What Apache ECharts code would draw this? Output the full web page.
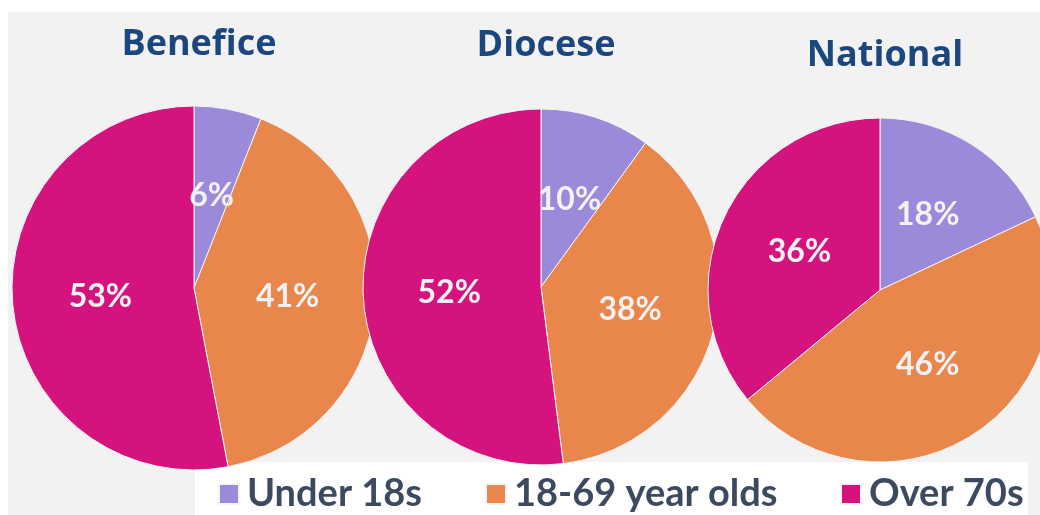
<!DOCTYPE html>
<html>
<head>
<meta charset="utf-8">
<script src="https://cdn.jsdelivr.net/npm/echarts@6/dist/echarts.min.js"></script>
<style>
  html, body { margin: 0; padding: 0; background: #ffffff; }
  #chart { width: 1040px; height: 515px; }
</style>
</head>
<body>
<div id="chart"></div>
<script>
// 数据
var groups = ['Benefice', 'Diocese', 'National'];
var ageBands = ['Under 18s', '18-69 year olds', 'Over 70s'];
var beneficeShare = [6, 41, 53];
var dioceseShare = [10, 38, 52];
var nationalShare = [18, 46, 36];
var bandColors = ['#9b89d9', '#e8864b', '#d5137f'];

// 每个饼图的位置
var pieCenters = [[194, 288], [541, 287], [880, 290]];
var pieRadius = [182, 178, 172];
var titleTops = [22, 23, 33];
var legendLefts = [213, 480, 835];

var shares = [beneficeShare, dioceseShare, nationalShare];

var myChart = echarts.init(document.getElementById('chart'));

function buildSeries(i) {
    return {
        name: groups[i],
        type: 'pie',
        center: pieCenters[i],
        radius: pieRadius[i],
        startAngle: 90,
        clockwise: true,
        silent: true,
        itemStyle: { borderColor: '#f4f4f4', borderWidth: 1 },
        label: {
            show: true,
            position: 'inner',
            formatter: '{c}%',
            color: '#f2f2f2',
            fontFamily: 'Lato',
            fontWeight: 'bold',
            fontSize: 32
        },
        labelLine: { show: false },
        data: ageBands.map(function (name, j) {
            return { name: name, value: shares[i][j], itemStyle: { color: bandColors[j] } };
        })
    };
}

var option = {
    backgroundColor: '#ffffff',
    animation: false,
    graphic: [
        {   // 灰色面板
            type: 'rect', z: -10, silent: true,
            shape: { x: 8, y: 12, width: 1032, height: 503 },
            style: { fill: '#f2f2f2' }
        },
        {   // 图例白底
            type: 'rect', z: -5, silent: true,
            shape: { x: 195, y: 462, width: 833, height: 53 },
            style: { fill: '#ffffff' }
        }
    ],
    title: groups.map(function (g, i) {
        return {
            text: g,
            left: pieCenters[i][0],
            top: titleTops[i],
            textAlign: 'center',
            textStyle: { fontFamily: 'Open Sans', fontWeight: 'bold', fontSize: 36, color: '#1b477e' }
        };
    }),
    legend: ageBands.map(function (name, j) {
        return {
            data: [name],
            left: legendLefts[j],
            top: 470,
            icon: 'rect',
            itemWidth: 20,
            itemHeight: 20,
            itemGap: 0,
            selectedMode: false,
            textStyle: { fontFamily: 'Lato', fontWeight: 'bold', fontSize: 38, color: '#3b4a5e', padding: [0, 0, 0, 3] }
        };
    }),
    series: [buildSeries(0), buildSeries(1), buildSeries(2)]
};

myChart.setOption(option);
</script>
</body>
</html>
